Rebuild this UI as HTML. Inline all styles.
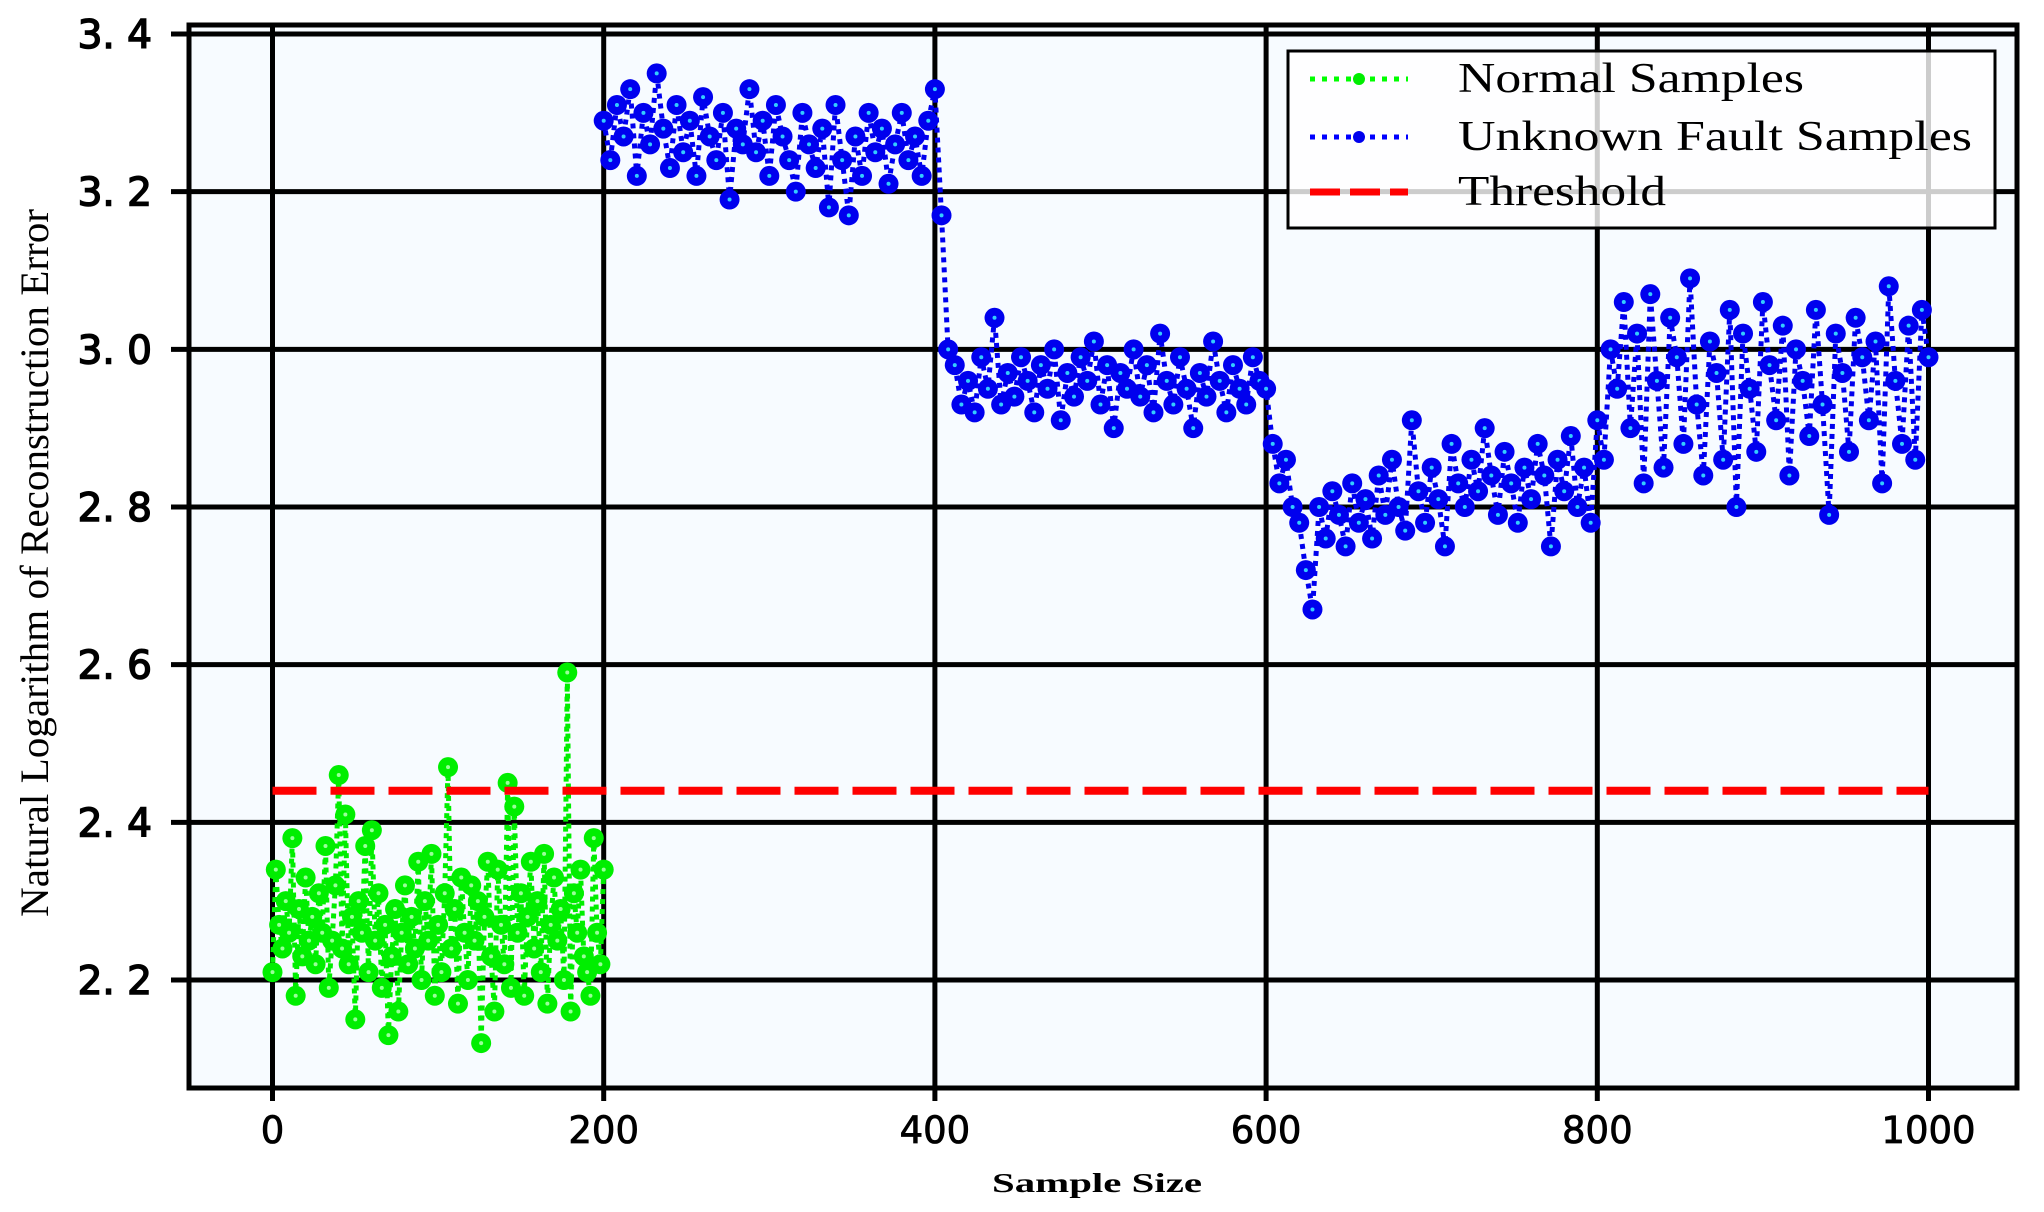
<!DOCTYPE html>
<html><head><meta charset="utf-8"><style>
html,body{margin:0;padding:0;background:#fff;}
svg{display:block;}
</style></head><body>
<svg id="chart" width="2044" height="1212" viewBox="0 0 2044 1212" xmlns="http://www.w3.org/2000/svg">
<rect x="189" y="25" width="1828" height="1063" fill="#f7fbff"/>
<g id="grid"></g>
<g id="series"></g>
<rect x="189" y="25" width="1828" height="1063" fill="none" stroke="#000" stroke-width="5"/>
<g id="ticks"></g>
<text transform="translate(48,563) rotate(-90)" text-anchor="middle" font-family="Liberation Serif, serif" font-size="40" textLength="708" lengthAdjust="spacingAndGlyphs">Natural Logarithm of Reconstruction Error</text>
<text x="1097" y="1192" text-anchor="middle" font-family="Liberation Serif, serif" font-size="27" font-weight="bold" textLength="210" lengthAdjust="spacingAndGlyphs">Sample Size</text>
<g>
<rect x="1288" y="51" width="707" height="177" fill="#fff" fill-opacity="0.8" stroke="#000" stroke-width="3"/>
<g>
<line x1="1310" y1="79" x2="1408" y2="79" stroke="#00ff00" stroke-width="5" stroke-dasharray="5 7"/>
<circle cx="1359" cy="79" r="6" fill="#00ee00"/>
<text x="1458" y="92" font-family="Liberation Serif, serif" font-size="42" textLength="346" lengthAdjust="spacingAndGlyphs">Normal Samples</text></g>
<g>
<line x1="1310" y1="137" x2="1408" y2="137" stroke="#0000ff" stroke-width="5" stroke-dasharray="5 7"/>
<circle cx="1359" cy="137" r="6" fill="#0000ee"/>
<text x="1458" y="150" font-family="Liberation Serif, serif" font-size="42" textLength="514" lengthAdjust="spacingAndGlyphs">Unknown Fault Samples</text></g>
<g>
<line x1="1310" y1="192" x2="1408" y2="192" stroke="#ff0000" stroke-width="7" stroke-dasharray="30 10"/>
<text x="1458" y="205" font-family="Liberation Serif, serif" font-size="42" textLength="208" lengthAdjust="spacingAndGlyphs">Threshold</text></g>
</g>
</svg>
<script>
const xTicks = [0, 200, 400, 600, 800, 1000];
const yTicks = [2.2, 2.4, 2.6, 2.8, 3.0, 3.2, 3.4];
const yTickLabels = ["2. 2", "2. 4", "2. 6", "2. 8", "3. 0", "3. 2", "3. 4"];
const thresholdValue = 2.44;
const thresholdRange = [0, 1000];
const normalStart = 0, normalStep = 2;
const normalValues = [2.21,2.34,2.27,2.24,2.30,2.26,2.38,2.18,2.29,2.23,
2.33,2.25,2.28,2.22,2.31,2.26,2.37,2.19,2.25,2.32,
2.46,2.24,2.41,2.22,2.28,2.15,2.30,2.26,2.37,2.21,
2.39,2.25,2.31,2.19,2.27,2.13,2.23,2.29,2.16,2.26,
2.32,2.22,2.28,2.24,2.35,2.20,2.30,2.25,2.36,2.18,
2.27,2.21,2.31,2.47,2.24,2.29,2.17,2.33,2.26,2.20,
2.32,2.25,2.30,2.12,2.28,2.35,2.23,2.16,2.34,2.27,
2.22,2.45,2.19,2.42,2.26,2.31,2.18,2.28,2.35,2.24,
2.30,2.21,2.36,2.17,2.27,2.33,2.25,2.29,2.20,2.59,
2.16,2.31,2.26,2.34,2.23,2.21,2.18,2.38,2.26,2.22,2.34];
const faultStart = 200, faultStep = 4;
const faultValues = [3.29,3.24,3.31,3.27,3.33,3.22,3.30,3.26,3.35,3.28,3.23,3.31,3.25,3.29,3.22,3.32,3.27,3.24,3.30,3.19,3.28,3.26,3.33,3.25,3.29,3.22,3.31,3.27,3.24,3.20,3.30,3.26,3.23,3.28,3.18,3.31,3.24,3.17,3.27,3.22,3.30,3.25,3.28,3.21,3.26,3.30,3.24,3.27,3.22,3.29,
3.33,3.17,3.00,
2.98,2.93,2.96,2.92,2.99,2.95,3.04,2.93,2.97,2.94,2.99,2.96,2.92,2.98,2.95,3.00,2.91,2.97,2.94,2.99,2.96,3.01,2.93,2.98,2.90,2.97,2.95,3.00,2.94,2.98,2.92,3.02,2.96,2.93,2.99,2.95,2.90,2.97,2.94,3.01,2.96,2.92,2.98,2.95,2.93,2.99,2.96,
2.95,2.88,2.83,2.86,2.80,
2.78,2.72,2.67,2.80,2.76,2.82,2.79,2.75,2.83,2.78,2.81,2.76,2.84,2.79,2.86,2.80,2.77,2.91,2.82,2.78,2.85,2.81,2.75,2.88,2.83,2.80,2.86,2.82,2.90,2.84,2.79,2.87,2.83,2.78,2.85,2.81,2.88,2.84,2.75,2.86,2.82,2.89,2.80,2.85,2.78,
2.91,2.86,3.00,2.95,3.06,2.90,3.02,2.83,3.07,2.96,2.85,3.04,2.99,2.88,3.09,2.93,2.84,3.01,2.97,2.86,3.05,2.80,3.02,2.95,2.87,3.06,2.98,2.91,3.03,2.84,3.00,2.96,2.89,3.05,2.93,2.79,3.02,2.97,2.87,3.04,2.99,2.91,3.01,2.83,3.08,2.96,2.88,3.03,2.86,3.05,
2.99];

const NS = "http://www.w3.org/2000/svg";
const X0 = 272.5, X1 = 1928.5, PL = 189, PR = 2017, PT = 25, PB = 1088;
function xScale(v){ return X0 + (v - 0) / 1000 * (X1 - X0); }
function yScale(v){ return 34 + (3.4 - v) / 1.2 * (980 - 34); }
function mk(tag, attrs, parent){ const e = document.createElementNS(NS, tag); for (const k in attrs) e.setAttribute(k, attrs[k]); parent.appendChild(e); return e; }

const grid = document.getElementById('grid');
const ticks = document.getElementById('ticks');
xTicks.forEach(function(t){
  const x = xScale(t);
  const g = mk('line', {x1:x, y1:PT, x2:x, y2:PB, stroke:'#000', 'stroke-width':5}, grid);
  
  
  const tk = mk('line', {x1:x, y1:PB, x2:x, y2:PB+13, stroke:'#000', 'stroke-width':5}, ticks);
  
  
  const lb = mk('text', {x:x, y:1143, 'text-anchor':'middle', 'font-family':'DejaVu Sans, sans-serif', 'font-size':37, stroke:'#000', 'stroke-width':0.8}, ticks);
  lb.textContent = String(t);
  
  
});
yTicks.forEach(function(t, i){
  const y = yScale(t);
  const g = mk('line', {x1:PL, y1:y, x2:PR, y2:y, stroke:'#000', 'stroke-width':5}, grid);
  
  
  const tk = mk('line', {x1:171, y1:y, x2:PL, y2:y, stroke:'#000', 'stroke-width':5}, ticks);
  
  
  const lb = mk('text', {x:152, y:y+14, 'text-anchor':'end', 'font-family':'DejaVu Sans, sans-serif', 'font-size':39, stroke:'#000', 'stroke-width':1.5, 'xml:space':'preserve'}, ticks);
  lb.textContent = yTickLabels[i];
  
  
});

const series = document.getElementById('series');
function drawSeries(vals, start, step, color, dot, name){
  const g = mk('g', {}, series);
  
  
  const pts = vals.map(function(v, i){ return xScale(start + i*step).toFixed(1) + ',' + yScale(v).toFixed(1); }).join(' ');
  const pl = mk('polyline', {points:pts, fill:'none', stroke:color, 'stroke-width':5, 'stroke-dasharray':'5 5'}, g);
  
  
  vals.forEach(function(v, i){
    const cx = xScale(start + i*step), cy = yScale(v);
    const c = mk('circle', {cx:cx, cy:cy, r:10, fill:color}, g);
    
    
    mk('circle', {cx:cx, cy:cy, r:2, fill:dot}, g);
  });
}
drawSeries(normalValues, normalStart, normalStep, '#00ee00', '#99ff99', 'normal-samples');
drawSeries(faultValues, faultStart, faultStep, '#0000ee', '#33ccff', 'fault-samples');

const th = mk('line', {x1:xScale(thresholdRange[0]), y1:yScale(thresholdValue), x2:xScale(thresholdRange[1]), y2:yScale(thresholdValue), stroke:'#ff0000', 'stroke-width':8, 'stroke-dasharray':'44 14'}, series);


</script>
</body></html>
